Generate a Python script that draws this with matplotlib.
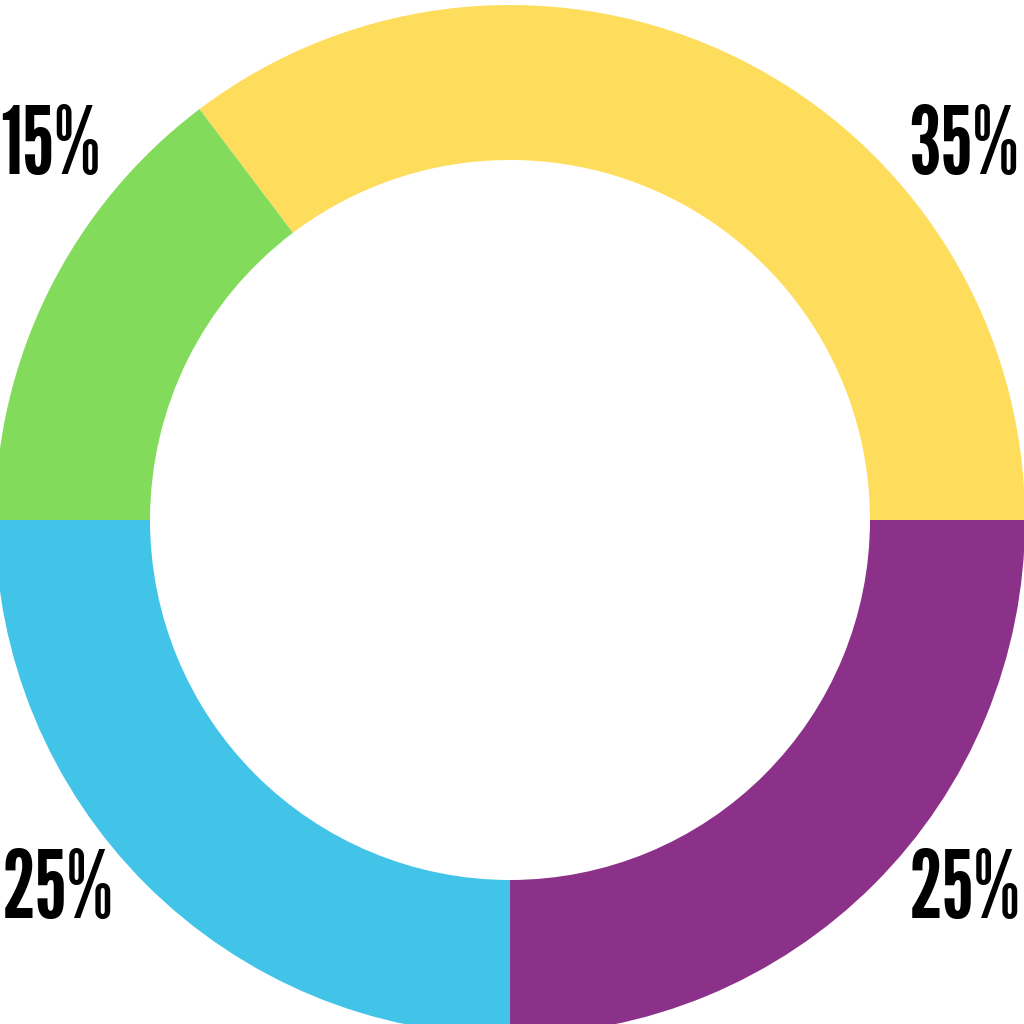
import matplotlib.pyplot as plt

# segment data (counter-clockwise from 3 o'clock), shares
shares = [35.3, 14.7, 25, 25]
labels = ["35%", "15%", "25%", "25%"]
colors = ["#FFDD5C", "#82DB5A", "#41C4E8", "#8B3189"]

# label anchors in pixel space: left edge x, baseline y (from top)
label_pos = [(908, 174), (0, 174), (2, 918), (909, 918)]

fig = plt.figure(figsize=(10.24, 10.24), dpi=100)
ax = fig.add_axes([0, 0, 1, 1])

ax.pie(shares, colors=colors, startangle=0, counterclock=True,
       center=(510, 1024 - 520), radius=515,
       wedgeprops=dict(width=155, linewidth=0), frame=False)

for txt, (x, y) in zip(labels, label_pos):
    ax.text(x, 1024 - y, txt, ha="left", va="baseline",
            fontsize=67, fontweight="bold",
            family=["League Gothic", "DejaVu Sans"], color="black")

ax.set_xlim(0, 1024)
ax.set_ylim(0, 1024)
ax.set_aspect("equal")
ax.axis("off")

plt.savefig("out.png", dpi=100, facecolor="white")
